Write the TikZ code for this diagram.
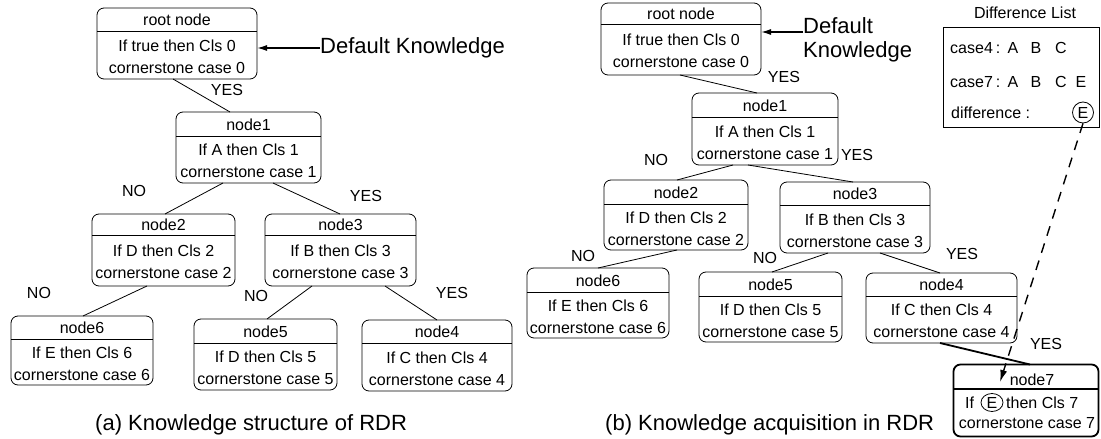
\documentclass[tikz,border=0pt]{standalone}
\usepackage{fontspec}
\setmainfont{Liberation Sans}
\usetikzlibrary{arrows.meta,shapes.geometric}
\tikzset{
  rdrframe/.style={draw, line width=0.8pt, rounded corners=7pt, inner sep=0pt, outer sep=0pt},
  divider/.style={line width=0.8pt},
  txt/.style={anchor=base, inner sep=0pt, font=\fontsize{16}{19}\selectfont},
  lbl/.style={anchor=center, inner sep=0pt, font=\fontsize{16}{19}\selectfont},
  big/.style={inner sep=0pt, font=\fontsize{22}{26}\selectfont},
  conn/.style={line width=0.8pt},
  thickconn/.style={line width=1.8pt},
  pointer/.style={line width=1.4pt, -{Latex[length=10pt,width=6pt]}},
  dashedpointer/.style={line width=1.4pt, dash pattern=on 10pt off 8pt, -{Latex[length=12pt,width=7pt]}},
}
\newcommand{\rdrbox}[9]{%
  \node[rdrframe, minimum width={(#4-#2)*1pt}, minimum height={(#5-#3)*1pt}] (#1) at ({(#2+#4)/2},{(#3+#5)/2}) {};
  \draw[divider] (#1.west |- 0,#6) -- (#1.east |- 0,#6);
  \node[txt] (#1h) at ({(#2+#4)/2},{(#3+#6)/2+6}) {#7};
  \node[txt] (#1a) at ({(#2+#4)/2},{(#6+#5)/2-4}) {#8};
  \node[txt] (#1b) at ({(#2+#4)/2},{(#6+#5)/2+18}) {#9};
}
\begin{document}
\begin{tikzpicture}[x=1pt,y=-1pt]
\useasboundingbox (0,0) rectangle (1101,439);
% ---------- (a) ----------
\rdrbox{rootA}{97}{8}{257}{79}{31}{root node}{If true then Cls 0}{cornerstone case 0}
\rdrbox{nA1}{176}{112}{321}{183}{136}{node1}{If A then Cls 1}{cornerstone case 1}
\rdrbox{nA2}{92}{214}{235}{286}{235}{node2}{If D then Cls 2}{cornerstone case 2}
\rdrbox{nA3}{265}{214}{416}{286}{235}{node3}{If B then Cls 3}{cornerstone case 3}
\rdrbox{nA6}{11}{316}{153}{385}{339}{node6}{If E then Cls 6}{cornerstone case 6}
\rdrbox{nA5}{194}{319}{337}{390}{343}{node5}{If D then Cls 5}{cornerstone case 5}
\rdrbox{nA4}{362}{320}{512}{391}{343}{node4}{If C then Cls 4}{cornerstone case 4}

\draw[conn] ([xshift=-4]rootA.south) -- ([xshift=-18.5]nA1.north);
\draw[conn] ([xshift=-25.5]nA1.south) -- ([xshift=1.5]nA2.north);
\draw[conn] ([xshift=24.5]nA1.south) -- ([xshift=-0.5]nA3.north);
\draw[conn] ([xshift=-16.5]nA2.south) -- ([xshift=1]nA6.north);
\draw[conn] ([xshift=-28.5]nA3.south) -- ([xshift=1.5]nA5.north);
\draw[conn] ([xshift=44.5]nA3.south) -- ([xshift=0]nA4.north);

\node[lbl] (yA1) at (227,90) {YES};
\node[lbl] (noA2) at (134,191) {NO};
\node[lbl] (yA3) at (366,196) {YES};
\node[lbl] (noA6) at (39,293) {NO};
\node[lbl] (noA5) at (256,296) {NO};
\node[lbl] (yA4) at (452,293) {YES};

\node[big, anchor=base west] (dkA) at (320,53) {Default Knowledge};
\draw[pointer] (dkA.west |- 0,48) -- (rootA.east |- 0,48) ;

\node[big, anchor=base west] (capA) at (95,430) {(a) Knowledge structure of RDR};

% ---------- (b) ----------
\rdrbox{rootB}{601}{3}{761}{75}{24}{root node}{If true then Cls 0}{cornerstone case 0}
\rdrbox{nB1}{692}{93}{838}{165}{117}{node1}{If A then Cls 1}{cornerstone case 1}
\rdrbox{nB2}{604}{180}{748}{250}{204}{node2}{If D then Cls 2}{cornerstone case 2}
\rdrbox{nB3}{780}{182}{930}{253}{205}{node3}{If B then Cls 3}{cornerstone case 3}
\rdrbox{nB6}{527}{268}{669}{338}{292}{node6}{If E then Cls 6}{cornerstone case 6}
\rdrbox{nB5}{699}{272}{842}{342}{296}{node5}{If D then Cls 5}{cornerstone case 5}
\rdrbox{nB4}{866}{273}{1017}{343}{296}{node4}{If C then Cls 4}{cornerstone case 4}

% node7 (thick)
\node[rdrframe, line width=1.8pt, minimum width=145pt, minimum height=72pt] (nB7) at (1026,400.5) {};
\draw[line width=1.8pt] (nB7.west |- 0,389) -- (nB7.east |- 0,389);
\node[txt] (nB7h) at (1032,385) {node7};
\node[txt, anchor=base west] (nB7if) at (965,408) {If};
\node[txt, draw, ellipse, line width=0.8pt, inner sep=0.6pt, minimum width=22pt, minimum height=18pt, anchor=base] (nB7E) at (992,408) {E};
\node[txt, anchor=base west] (nB7then) at (1006,408) {then Cls 7};
\node[txt] (nB7b) at (1027,428) {cornerstone case 7};

\draw[conn] ([xshift=-1]rootB.south) -- ([xshift=-8]nB1.north);
\draw[conn] ([xshift=-32]nB1.south) -- ([xshift=1]nB2.north);
\draw[conn] ([xshift=-17]nB1.south) -- ([xshift=-2]nB3.north);
\draw[conn] ([xshift=1]nB2.south) -- ([xshift=0]nB6.north);
\draw[conn] ([xshift=-27]nB3.south) -- ([xshift=1.5]nB5.north);
\draw[conn] ([xshift=25]nB3.south) -- ([xshift=-1.5]nB4.north);
\draw[thickconn] ([xshift=-1.5]nB4.south) -- ([xshift=4]nB7.north);

\node[lbl] (yB1) at (784,77) {YES};
\node[lbl] (noB2) at (656,160) {NO};
\node[lbl] (yB3) at (857,155) {YES};
\node[lbl] (noB6) at (583,256) {NO};
\node[lbl] (noB5) at (765,258) {NO};
\node[lbl] (yB4) at (962,254) {YES};
\node[lbl] (yB7) at (1046,344) {YES};

\node[big, anchor=base west] (dkB1) at (803,33) {Default};
\node[big, anchor=base west] (dkB2) at (803,57) {Knowledge};
\draw[pointer] (dkB1.west |- 0,32) -- (rootB.east |- 0,32);

\node[big, anchor=base west] (capB) at (605,430) {(b) Knowledge acquisition in RDR};

% difference list
\node[txt] (dlt) at (1025,19) {Difference List};
\node[draw, line width=0.8pt, inner sep=0pt, minimum width=156pt, minimum height=100pt] (dl) at (1021,77) {};
\node[txt, anchor=base west] (c4) at (950,53) {case4};
\node[txt] (c4s) at (998,53) {:};
\node[txt] (c4a) at (1013,53) {A};
\node[txt] (c4b) at (1036,53) {B};
\node[txt] (c4c) at (1061,53) {C};
\node[txt, anchor=base west] (c7) at (950,87) {case7};
\node[txt] (c7s) at (998,87) {:};
\node[txt] (c7a) at (1013,87) {A};
\node[txt] (c7b) at (1036,87) {B};
\node[txt] (c7c) at (1061,87) {C};
\node[txt] (c7e) at (1081,87) {E};
\node[txt, anchor=base west] (df) at (951,118) {difference :};
\node[txt, draw, circle, line width=0.8pt, inner sep=0pt, minimum size=21pt, anchor=base] (dfE) at (1083,118) {E};

\coordinate (tipB7) at (1000,382);
\draw[dashedpointer] (dfE.south) -- (tipB7);
\end{tikzpicture}
\end{document}
